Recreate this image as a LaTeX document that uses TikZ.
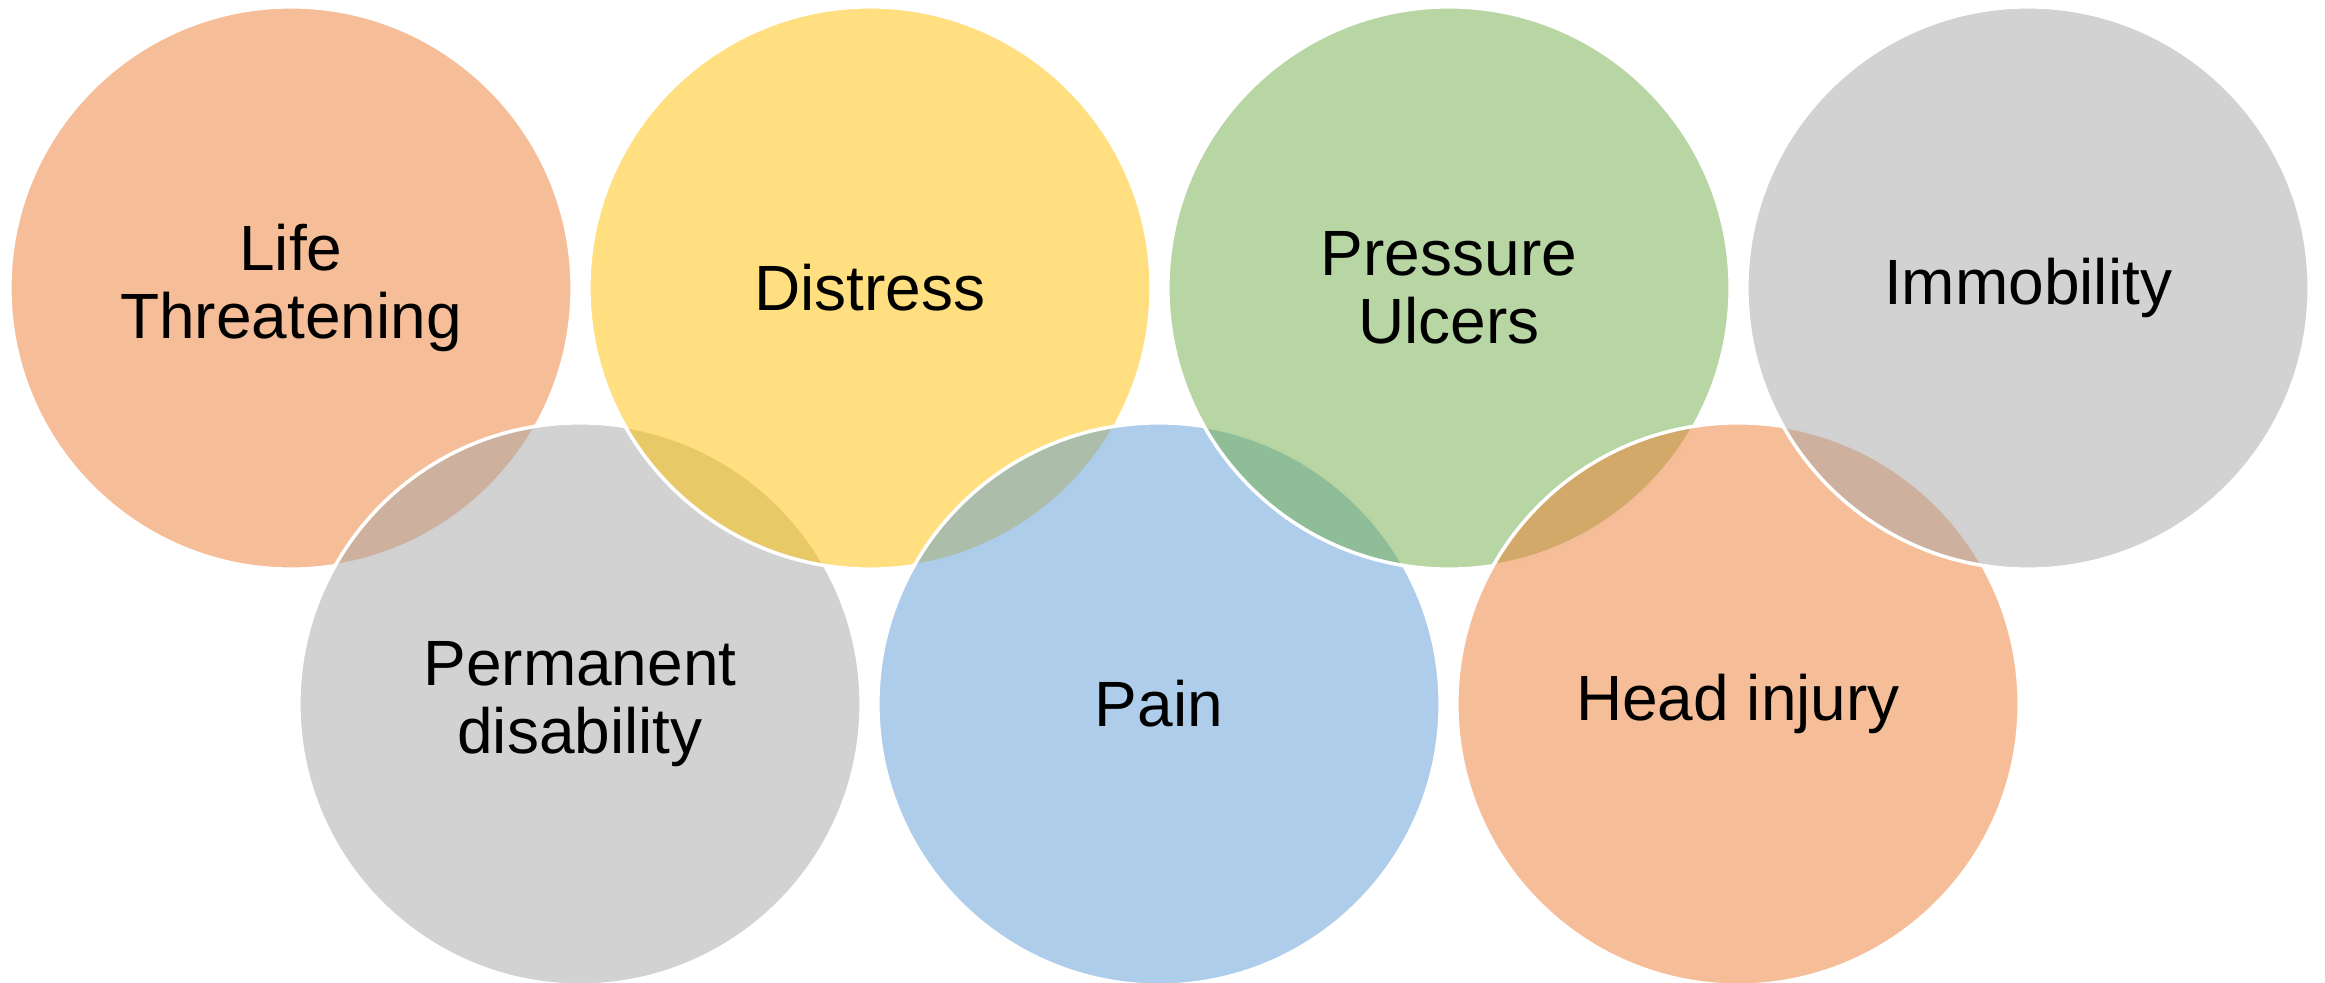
\documentclass[tikz,border=0pt]{standalone}
\usepackage{fontspec}
\setmainfont{Liberation Sans}
\usepackage{tikz}
\definecolor{ringorange}{HTML}{ED7D31}
\definecolor{ringyellow}{HTML}{FFC000}
\definecolor{ringgreen}{HTML}{70AD47}
\definecolor{ringgray}{HTML}{A5A5A5}
\definecolor{ringblue}{HTML}{5B9BD5}

\begin{document}
\begin{tikzpicture}[
  x=0.01cm, y=-0.01cm,
  ring/.style={circle, minimum size=5.62cm, inner sep=0pt, align=center,
               draw=white, line width=1pt,
               fill opacity=0.5, text opacity=1,
               font=\fontsize{18.2}{19.5}\selectfont},
]

% Frame
\useasboundingbox (0,0) rectangle (2325,983);

% Circles, left to right, each one laid over the one before
\node[ring, fill=ringorange] (life)     at (291,288)  {Life\\Threatening};
\node[ring, fill=ringgray]   (disab)    at (580,704)  {Permanent\\disability};
\node[ring, fill=ringyellow] (distress) at (870,288)  {Distress};
\node[ring, fill=ringblue]   (pain)     at (1159,704) {Pain};
\node[ring, fill=ringgreen]  (ulcers)   at (1449,288) {Pressure\\Ulcers};
\node[ring, fill=ringorange] (head)     at (1738,704) {Head injury};
\node[ring, fill=ringgray]   (immob)    at (2028,288) {Immobility};

\end{tikzpicture}
\end{document}
